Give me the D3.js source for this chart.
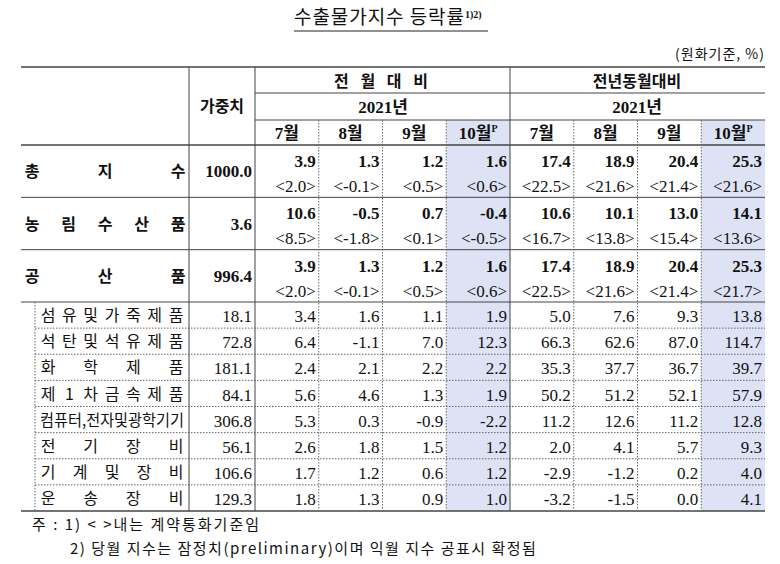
<!DOCTYPE html>
<html><head><meta charset="utf-8">
<script src="https://cdn.jsdelivr.net/npm/d3@7"></script>
<style>
body{margin:0;background:#fff}
text{font-family:"Liberation Serif","Noto Sans CJK KR",serif;fill:#111}
.ko{font-family:"Noto Sans CJK KR",sans-serif}
</style></head><body>
<svg id="c" width="780" height="564"></svg>
<script>
var months = ["7월","8월","9월","10월"]
var mainRows = ["총지수","농림수산품","공산품"]
var mainWeights = ["1000.0","3.6","996.4"]
var mainMoM = [["3.9","1.3","1.2","1.6"],["10.6","-0.5","0.7","-0.4"],["3.9","1.3","1.2","1.6"]]
var mainMoMC = [["2.0","-0.1","0.5","0.6"],["8.5","-1.8","0.1","-0.5"],["2.0","-0.1","0.5","0.6"]]
var mainYoY = [["17.4","18.9","20.4","25.3"],["10.6","10.1","13.0","14.1"],["17.4","18.9","20.4","25.3"]]
var mainYoYC = [["22.5","21.6","21.4","21.6"],["16.7","13.8","15.4","13.6"],["22.5","21.6","21.4","21.7"]]
var subRows = ["섬유및가죽제품","석탄및석유제품","화학제품","제1차금속제품","컴퓨터,전자및광학기기","전기장비","기계및장비","운송장비"]
var subWeights = ["18.1","72.8","181.1","84.1","306.8","56.1","106.6","129.3"]
var subMoM = [["3.4","1.6","1.1","1.9"],["6.4","-1.1","7.0","12.3"],["2.4","2.1","2.2","2.2"],["5.6","4.6","1.3","1.9"],["5.3","0.3","-0.9","-2.2"],["2.6","1.8","1.5","1.2"],["1.7","1.2","0.6","1.2"],["1.8","1.3","0.9","1.0"]]
var subYoY = [["5.0","7.6","9.3","13.8"],["66.3","62.6","87.0","114.7"],["35.3","37.7","36.7","39.7"],["50.2","51.2","52.1","57.9"],["11.2","12.6","11.2","12.8"],["2.0","4.1","5.7","9.3"],["-2.9","-1.2","0.2","4.0"],["-3.2","-1.5","0.0","4.1"]]

var svg = d3.select("#c")
var L = 21, R = 765
var colX = d3.scaleLinear().domain([0, 8]).range([255, 765])   // month columns
var mainY = d3.scaleLinear().domain([0, 3]).range([145, 302])
var subY = d3.scaleLinear().domain([0, 8]).range([302, 511])
var shade = "#dde3f5"

function line(x1, y1, x2, y2, dash, w, col) {
  svg.append("line").attr("x1", x1).attr("y1", y1).attr("x2", x2).attr("y2", y2)
    .attr("stroke", col || "#444").attr("stroke-width", w || 1)
    .attr("stroke-dasharray", dash ? "1.5,1.5" : null)
}
function txt(x, y, s, anchor, size, bold, cls) {
  return svg.append("text").attr("x", x).attr("y", y).attr("text-anchor", anchor || "middle")
    .attr("font-size", size || 17).attr("font-weight", bold ? "bold" : null)
    .attr("class", cls || null).text(s)
}

;[3, 7].forEach(function(i) {
  svg.append("rect").attr("x", colX(i)).attr("y", 120).attr("width", colX(i + 1) - colX(i))
    .attr("height", 511 - 120).attr("fill", shade)
})

// title
txt(294, 24, "수출물가지수 등락률", "start", 19, false, "ko").attr("textLength", 170).attr("lengthAdjust", "spacing")
txt(465, 18, "1)2)", "start", 10, true)
line(294, 31, 488, 31, false, 1, "#222")
txt(765, 59, "(원화기준, %)", "end", 14, false, "ko").attr("letter-spacing", 1)

// header
txt(222, 112, "가중치", "middle", 16, true, "ko")
txt(383, 87, "전 월 대 비", "middle", 16, true, "ko").attr("letter-spacing", 4)
txt(637, 87, "전년동월대비", "middle", 16, true, "ko")
txt(383, 113, "2021년", "middle", 17, true)
txt(637, 113, "2021년", "middle", 17, true)
d3.range(8).forEach(function(i) {
  var t = txt((colX(i) + colX(i + 1)) / 2, 139, months[i % 4], "middle", 17, true)
  if (i % 4 == 3) t.append("tspan").attr("font-size", 10).attr("dy", -7).text("P")
})

function spread(label, x0, x1, y, bold, size) {
  if (label.indexOf(",") >= 0) {
    txt(x0, y, label, "start", size, bold, "ko").attr("textLength", x1 - x0).attr("lengthAdjust", "spacingAndGlyphs")
    return
  }
  var ch = Array.from(label)
  var sx = d3.scalePoint().domain(d3.range(ch.length)).range([x0 + 8, x1 - 8])
  ch.forEach(function(c, i) { txt(sx(i), y, c, "middle", size, bold, "ko") })
}

mainRows.forEach(function(r, i) {
  var y0 = mainY(i), y1 = mainY(i + 1)
  spread(r, 24, 186, (y0 + y1) / 2 + 6, true, 16)
  txt(252, (y0 + y1) / 2 + 6, mainWeights[i], "end", 17, true)
  d3.range(8).forEach(function(j) {
    var v = j < 4 ? mainMoM[i][j] : mainYoY[i][j - 4]
    var c = j < 4 ? mainMoMC[i][j] : mainYoYC[i][j - 4]
    txt(colX(j + 1) - 3, y0 + 22, v, "end", 17, true)
    txt(colX(j + 1) - 3, y0 + 47, "<" + c + ">", "end", 17, false)
  })
  line(L, y1, R, y1, false, 1)
})

subRows.forEach(function(r, i) {
  var y0 = subY(i), y1 = subY(i + 1)
  spread(r, 40, 184, y1 - 7, false, 16)
  txt(252, y1 - 6, subWeights[i], "end", 17)
  d3.range(8).forEach(function(j) {
    var v = j < 4 ? subMoM[i][j] : subYoY[i][j - 4]
    txt(colX(j + 1) - 3, y1 - 6, v, "end", 17)
  })
  if (i < 7) line(35, y1, R, y1, true, 1, "#666")
})
line(35, 302, 35, 511, true, 1, "#666")

line(L, 67, R, 67, false, 1.4)
line(255, 93, R, 93, false, 1)
line(255, 120, R, 120, false, 1)
line(L, 145, R, 145, false, 1.4)
line(L, 511, R, 511, false, 1.4)
line(189, 67, 189, 511, false, 1)
line(255, 67, 255, 511, false, 1)
line(colX(4), 67, colX(4), 511, false, 1)
;[1, 2, 3, 5, 6, 7].forEach(function(i) { line(colX(i), 120, colX(i), 511, true, 1, "#666") })

txt(32, 530, "주 :  1) < >내는 계약통화기준임", "start", 15, false, "ko").attr("letter-spacing", 2)
txt(70, 554, "2) 당월 지수는 잠정치(preliminary)이며 익월 지수 공표시 확정됨", "start", 15, false, "ko").attr("letter-spacing", 1.5)
</script></body></html>
